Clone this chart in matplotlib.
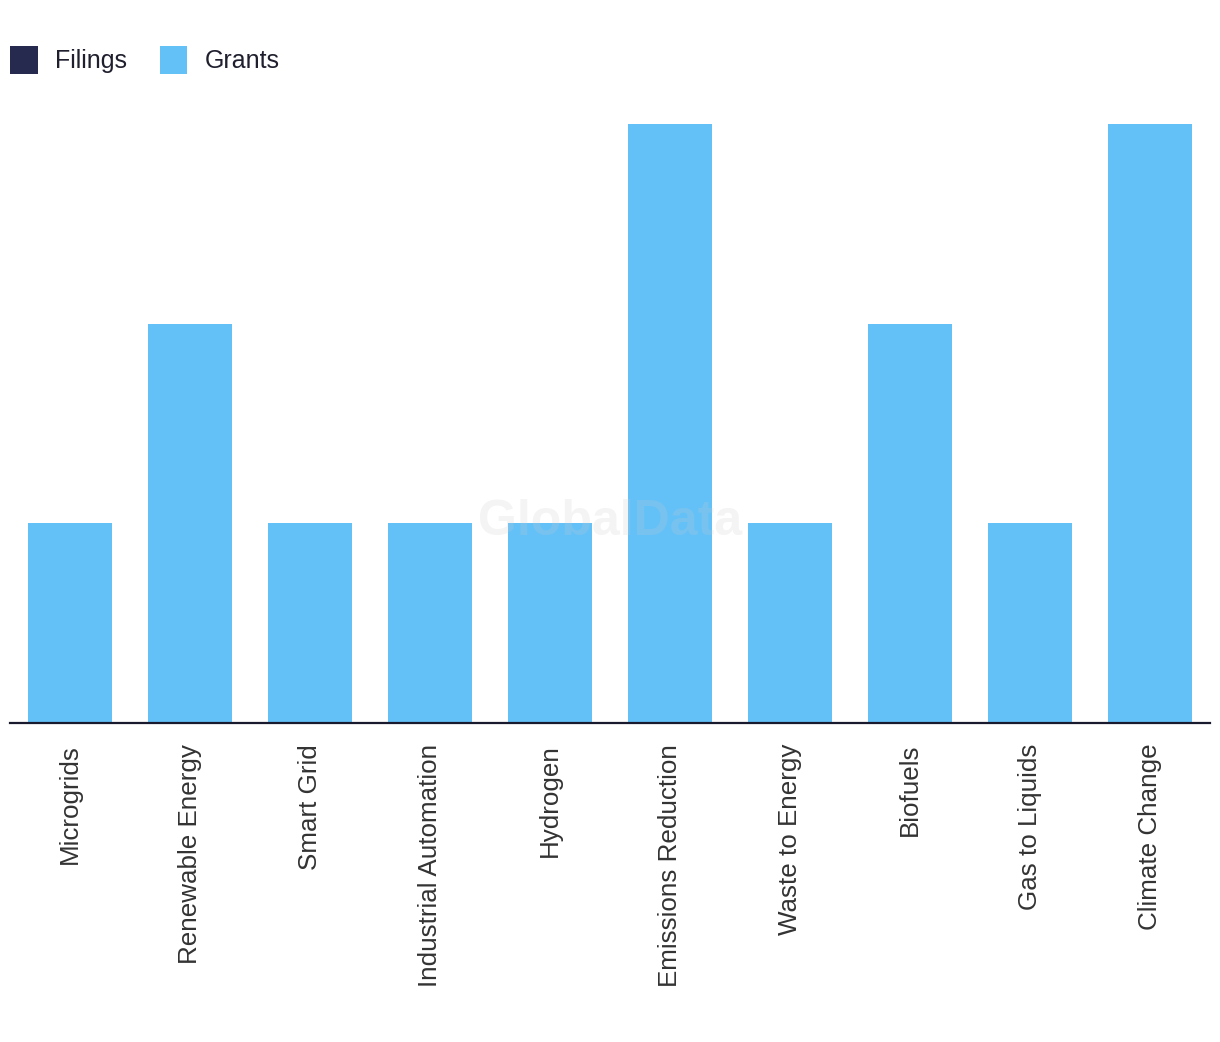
import matplotlib
matplotlib.use("Agg")
import matplotlib.pyplot as plt
import numpy as np

categories = ["Microgrids", "Renewable Energy", "Smart Grid", "Industrial Automation",
              "Hydrogen", "Emissions Reduction", "Waste to Energy", "Biofuels",
              "Gas to Liquids", "Climate Change"]
filings = [0, 0, 0, 0, 0, 0, 0, 0, 0, 0]
grants = [1, 2, 1, 1, 1, 3, 1, 2, 1, 3]

plt.rcParams['font.family'] = ['Liberation Sans', 'DejaVu Sans']

fig = plt.figure(figsize=(12.2, 10.42), dpi=100)
ax = fig.add_axes([10/1220, 1 - 723/1042, 1200/1220, (723 - 124)/1042])

x = np.arange(len(categories))
b1 = ax.bar(x, filings, width=0.7, color="#262a4f", label="Filings")
b2 = ax.bar(x, grants, width=0.7, bottom=filings, color="#63c1f8", label="Grants")

ax.set_xlim(-0.5, len(categories) - 0.5)
ax.set_ylim(0, 3)
ax.set_xticks(x)
ax.set_xticklabels(categories, rotation=90, fontsize=18.7, color="#333333", va="top")
ax.tick_params(axis="x", length=0, pad=15)
ax.set_yticks([])
for s in ["left", "right", "top"]:
    ax.spines[s].set_visible(False)
ax.spines["bottom"].set_color("#1a1a2e")
ax.spines["bottom"].set_linewidth(1.6)

ax.text(0.5, 0.335, "GlobalData", transform=ax.transAxes, ha="center", va="center",
        fontsize=36, fontweight="bold", color="#c8c8c8", alpha=0.2, zorder=5)

fig.legend(handles=[b1, b2], labels=["Filings", "Grants"], loc="upper left",
           bbox_to_anchor=(0/1220, 1 - 36/1042), ncol=2, frameon=False,
           fontsize=18, handlelength=1.1, handleheight=1.35, handletextpad=0.7,
           columnspacing=1.3, labelcolor="#1f1f2e", borderaxespad=0)

fig.savefig("out.png", dpi=100, facecolor="white")
